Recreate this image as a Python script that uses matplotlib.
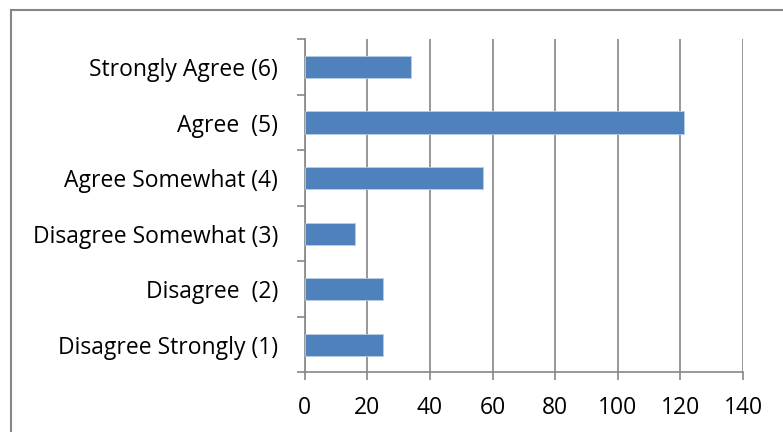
import matplotlib.pyplot as plt
from matplotlib.lines import Line2D

# survey responses, bottom to top
categories = [
    "Disagree Strongly (1)",
    "Disagree  (2)",
    "Disagree Somewhat (3)",
    "Agree Somewhat (4)",
    "Agree  (5)",
    "Strongly Agree (6)",
]
counts = [25, 25, 16, 57, 121, 34]
x_ticks = [0, 20, 40, 60, 80, 100, 120, 140]

plt.rcParams['font.family'] = ['Open Sans', 'DejaVu Sans']

fig = plt.figure(figsize=(7.83, 4.32), dpi=100)
ax = fig.add_axes([0.389, 0.138, 0.560, 0.771])

grey = '#868686'
ypos = list(range(len(categories)))
ax.barh(ypos, counts, height=0.4, color='#4F81BD', edgecolor='#B9CDE5',
        linewidth=0.6, zorder=3)

ax.set_xlim(0, 140)
ax.set_ylim(-0.5, len(categories) - 0.5)
ax.set_xticks(x_ticks)
ax.set_xticklabels([str(t) for t in x_ticks], fontsize=16.5)
ax.grid(axis='x', color=grey, linewidth=1.2, zorder=0)

# category labels at the centres, tick marks at the boundaries
ax.set_yticks([i - 0.5 for i in range(len(categories) + 1)])
ax.set_yticklabels([])
ax.set_yticks(ypos, minor=True)
ax.set_yticklabels(categories, minor=True, fontsize=16.5)
ax.tick_params(axis='y', which='minor', length=0, pad=19)
ax.tick_params(axis='y', which='major', length=6, width=1.2, color=grey,
               direction='out')
ax.tick_params(axis='x', length=6, width=1.2, color=grey, pad=11)

for side in ('top', 'right'):
    ax.spines[side].set_visible(False)
for side in ('left', 'bottom'):
    ax.spines[side].set_color(grey)
    ax.spines[side].set_linewidth(1.2)

# chart area border (cropped on the right and bottom)
fig.add_artist(Line2D([10.5 / 783, 10.5 / 783], [0, 1 - 9.5 / 432],
                      color=grey, linewidth=1.5))
fig.add_artist(Line2D([10.5 / 783, 1], [1 - 9.5 / 432, 1 - 9.5 / 432],
                      color=grey, linewidth=1.5))

fig.savefig('out.png', dpi=100)
